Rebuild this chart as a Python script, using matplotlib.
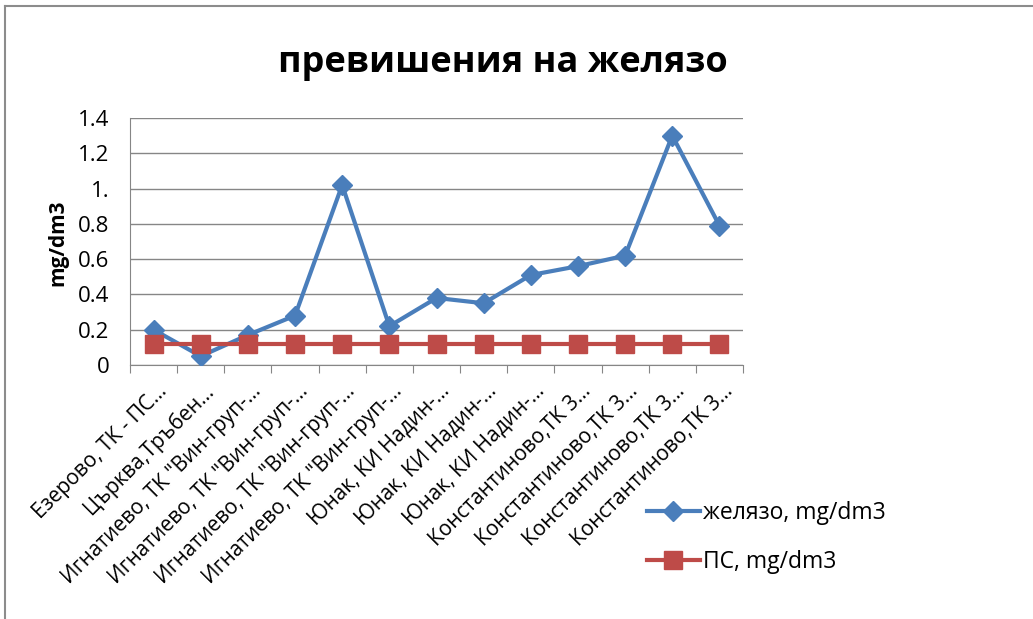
import numpy as np
import matplotlib
matplotlib.use("Agg")
from matplotlib import pyplot as plt
from matplotlib.lines import Line2D
from matplotlib.transforms import ScaledTranslation

plt.rcParams['font.family'] = ['Open Sans', 'DejaVu Sans']

# data
sites = ['Езерово, ТК - ПС…',
         'Църква,Тръбен…',
         'Игнатиево, ТК "Вин-груп-…',
         'Игнатиево, ТК "Вин-груп-…',
         'Игнатиево, ТК "Вин-груп-…',
         'Игнатиево, ТК "Вин-груп-…',
         'Юнак, КИ Надин-…',
         'Юнак, КИ Надин-…',
         'Юнак, КИ Надин-…',
         'Константиново,ТК 3…',
         'Константиново,ТК 3…',
         'Константиново,ТК 3…',
         'Константиново,ТК 3…']
iron = [0.20, 0.05, 0.17, 0.28, 1.02, 0.22, 0.38, 0.35, 0.51, 0.56, 0.62, 1.30, 0.79]
limit = [0.12, 0.12, 0.12, 0.12, 0.12, 0.12, 0.12, 0.12, 0.12, 0.12, 0.12, 0.12, 0.12]
y_ticks = [0, 0.2, 0.4, 0.6, 0.8, 1.0, 1.2, 1.4]
y_ticklabels = ['0', '0.2', '0.4', '0.6', '0.8', '1.', '1.2', '1.4']

W, H = 1033, 619
fig = plt.figure(figsize=(W / 100, H / 100), dpi=100)
ax = fig.add_axes([130 / W, 1 - 365 / H, (743 - 130) / W, (365 - 118) / H])

x = np.arange(len(sites))
ax.plot(x, iron, color='#4A7EBB', lw=3, marker='D', ms=10,
        label='желязо, mg/dm3', zorder=3)
ax.plot(x, limit, color='#BE4B48', lw=3, marker='s', ms=13,
        label='ПС, mg/dm3', zorder=4)

ax.set_xlim(-0.5, len(sites) - 0.5)
ax.set_ylim(0, 1.4)
ax.set_yticks(y_ticks)
ax.set_yticklabels(y_ticklabels, fontsize=16)
ax.tick_params(axis='y', length=0, pad=15)
ax.yaxis.grid(True, color='#868686', lw=1)
ax.set_axisbelow(True)

# category boundaries as major ticks, labels on the minor ticks
ax.set_xticks(np.arange(-0.5, len(sites), 1.0))
ax.set_xticklabels([])
ax.tick_params(axis='x', which='major', length=6, color='#868686', direction='out')
ax.set_xticks(x, minor=True)
ax.set_xticklabels(sites, minor=True, rotation=45, ha='right', va='center',
                   rotation_mode='anchor', fontsize=15)
ax.tick_params(axis='x', which='minor', length=0, pad=0)
off = ScaledTranslation(0.10, -0.23, fig.dpi_scale_trans)
for lab in ax.get_xticklabels(minor=True):
    lab.set_transform(lab.get_transform() + off)

for s in ['top', 'right']:
    ax.spines[s].set_visible(False)
for s in ['left', 'bottom']:
    ax.spines[s].set_color('#868686')

fig.text(503 / W, 1 - 63 / H, 'превишения на желязо', fontsize=26,
         fontweight='bold', ha='center', va='center')
fig.text(58 / W, 1 - 243 / H, 'mg/dm3', fontsize=15, fontweight='bold',
         rotation=90, ha='center', va='center')

ax.legend(loc='center left', bbox_to_anchor=(647 / W, 1 - 537.5 / H),
          bbox_transform=fig.transFigure, frameon=False, fontsize=16.5,
          handlelength=2.3, handletextpad=0.15, labelspacing=1.05,
          borderpad=0, borderaxespad=0)

# outer frame of the chart area
fig.add_artist(Line2D([5 / W, 5 / W], [0, 1 - 5.5 / H], transform=fig.transFigure,
                      color='#8c8c8c', lw=1.5))
fig.add_artist(Line2D([5 / W, 1], [1 - 5.5 / H, 1 - 5.5 / H], transform=fig.transFigure,
                      color='#8c8c8c', lw=1.5))

fig.savefig('out.png', dpi=100)
